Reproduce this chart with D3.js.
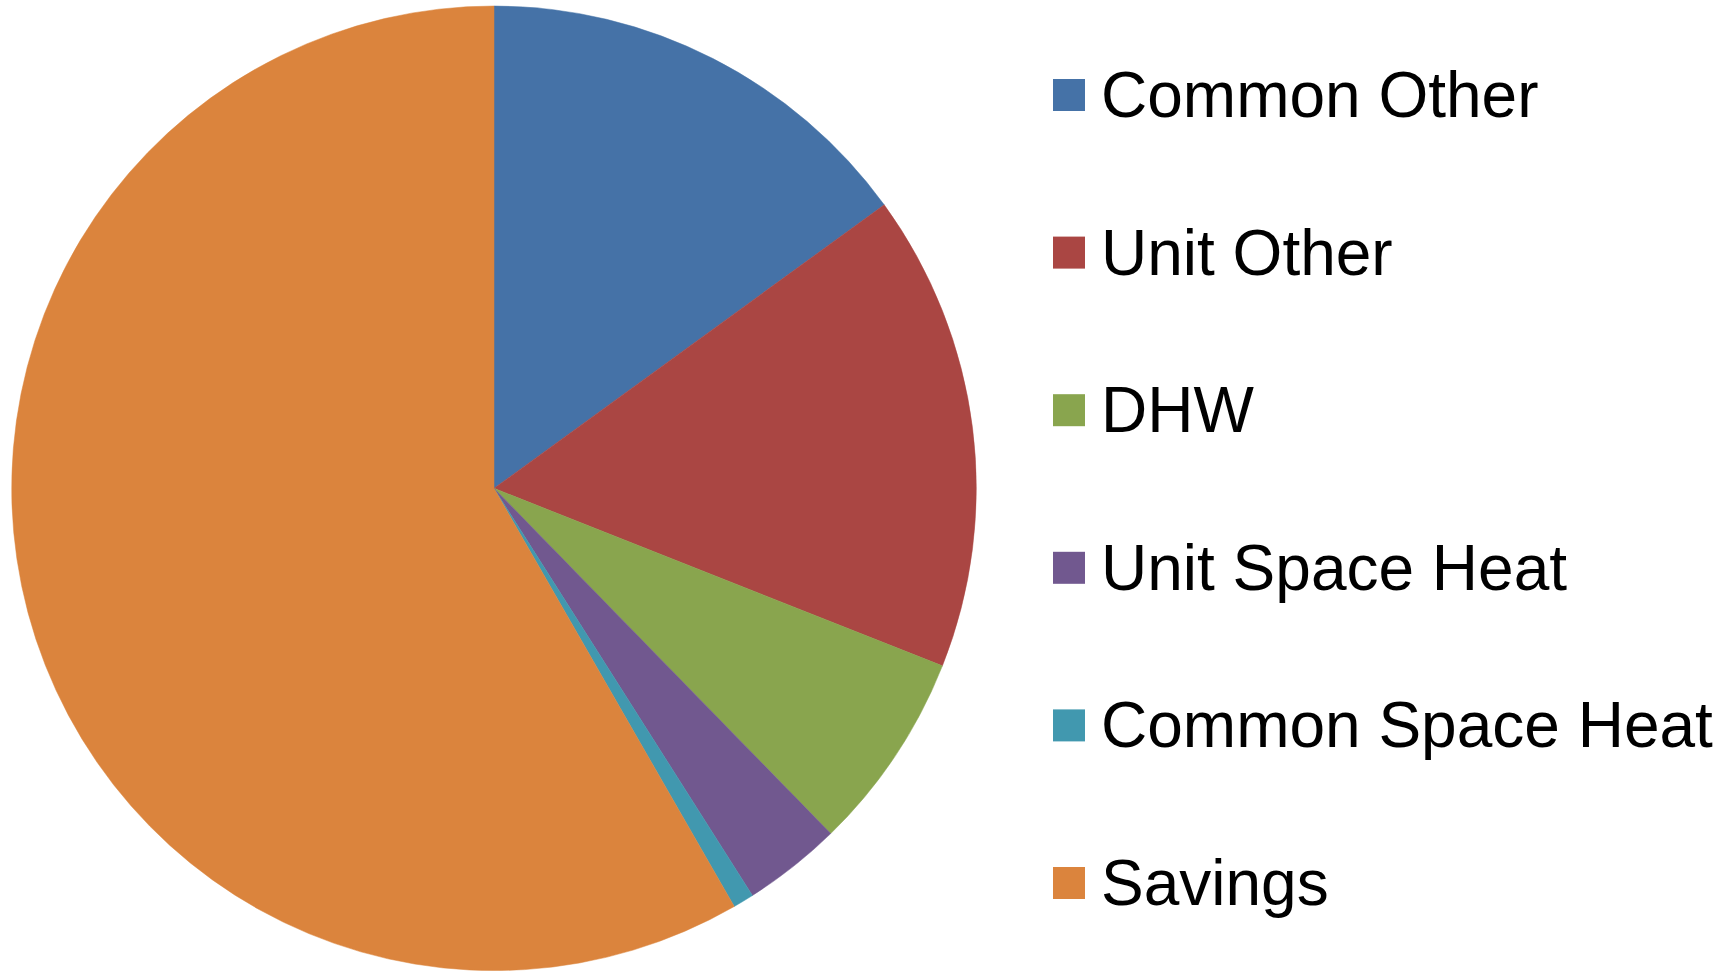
<!DOCTYPE html>
<html>
<head>
<meta charset="utf-8">
<script src="https://cdn.jsdelivr.net/npm/d3@7"></script>
<style>
  html, body { margin: 0; padding: 0; background: #ffffff; overflow: hidden; }
  svg { display: block; }
</style>
</head>
<body>
<svg id="chart" width="1735" height="971"></svg>
<script>
// ---- data ----
const categories = ["Common Other", "Unit Other", "DHW", "Unit Space Heat", "Common Space Heat", "Savings"];
const values = [15.0, 16.0, 6.7, 3.3, 0.7, 58.3];
const colors = ["#4572A7", "#AA4643", "#89A54E", "#71588F", "#4198AF", "#DB843D"];

const data = categories.map((c, i) => ({ category: c, value: values[i] }));

const svg = d3.select("#chart");

// ---- pie ----
const cx = 494, cy = 488.3, radius = 482.3;
const color = d3.scaleOrdinal().domain(categories).range(colors);
const pie = d3.pie().value(d => d.value).sort(null).startAngle(0).endAngle(2 * Math.PI);
const arc = d3.arc().innerRadius(0).outerRadius(radius);

svg.append("g")
  .attr("transform", `translate(${cx},${cy})`)
  .selectAll("path")
  .data(pie(data))
  .join("path")
  .attr("d", arc)
  .attr("fill", d => color(d.data.category))
  .attr("stroke", d => color(d.data.category))
  .attr("stroke-width", 0.5);

// ---- legend ----
const legendY = d3.scalePoint().domain(categories).range([95, 883]);
const legend = svg.append("g");
const items = legend.selectAll("g").data(categories).join("g")
  .attr("transform", d => `translate(0,${legendY(d)})`);
items.append("rect")
  .attr("x", 1053).attr("y", -16)
  .attr("width", 32).attr("height", 32)
  .attr("fill", d => color(d));
items.append("text")
  .attr("x", 1101).attr("y", 22)
  .attr("font-family", "Liberation Sans, Arial, sans-serif")
  .attr("font-size", 64)
  .attr("fill", "#000")
  .text(d => d);
</script>
</body>
</html>
